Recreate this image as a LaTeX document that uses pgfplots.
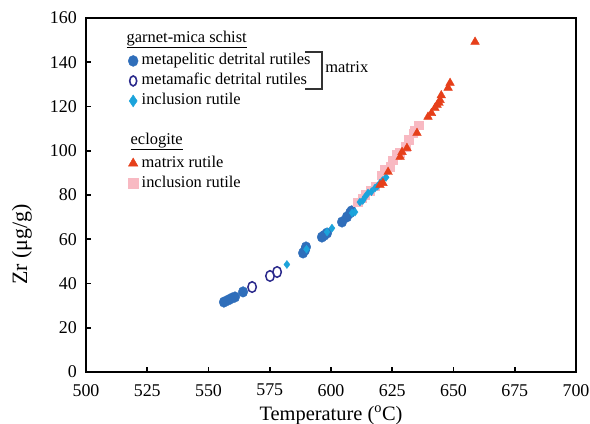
\documentclass[border=0pt]{standalone}
\usepackage{fontspec}
\setmainfont{Liberation Serif}
\usepackage{pgfplots}
\pgfplotsset{compat=1.18}

\definecolor{pelblue}{HTML}{2F6EBA}
\definecolor{mafnavy}{HTML}{2B2A8C}
\definecolor{inccyan}{HTML}{1BA3DB}
\definecolor{eclred}{HTML}{E63F1A}
\definecolor{eclpink}{HTML}{F8B9C2}

\begin{document}
\begin{tikzpicture}[x=1bp,y=1bp]
\useasboundingbox (-86bp,-52bp) rectangle (504bp,372bp);
\begin{axis}[
    at={(0,0)}, anchor=south west,
    scale only axis,
    width=490bp, height=354bp,
    xmin=500, xmax=700, ymin=0, ymax=160,
    xtick={500,525,...,700},
    ytick={0,20,...,160},
    axis line style={line width=2.4bp},
    tick style={line width=1.6bp, black},
    major tick length=5bp,
    tick align=inside,
    xtick pos=bottom, ytick pos=left,
    /pgf/number format/assume math mode=true,
    xticklabel={\pgfmathprintnumber{\tick}},
    yticklabel={\pgfmathprintnumber{\tick}},
    tick label style={font=\fontsize{18}{20}\selectfont, inner sep=0pt},
    yticklabel style={xshift=-9bp},
    xticklabel style={yshift=-12bp},
    xlabel={Temperature (\textsuperscript{o}C)},
    ylabel={Zr (μg/g)},
    xlabel style={font=\fontsize{20.5}{24}\selectfont, at={(axis description cs:0.5,0)}, anchor=base, yshift=-48bp},
    ylabel style={font=\fontsize{22}{24}\selectfont, at={(axis description cs:-0.1306,0.36)}, anchor=center},
    legend image code/.code={\draw[only marks,#1] plot coordinates {(5bp,0bp)};},
    legend cell align=left,
    legend style={draw=none, fill=none, at={(0.0857,0.9647)}, anchor=north west,
        inner sep=0pt, column sep=3bp, row sep=4.5bp,
        nodes={inner sep=0.5bp, text height=11bp, text depth=3.5bp},
        font=\fontsize{16.5}{18}\selectfont},
]
% metapelitic detrital rutiles
\addplot[only marks, mark=*, mark size=5.3bp, color=pelblue, mark options={xscale=0.9}, forget plot] coordinates {
(556.3,31.6) (558.0,32.5) (559.6,33.4) (560.8,33.9) (564.1,36.2)
(588.6,53.8) (589.4,55.1) (589.8,56.5) (596.3,61.0) (597.3,61.8)
(598.4,62.8) (604.5,67.8) (606.5,70.1) (607.8,71.9) (608.4,72.8)
};
% metamafic detrital rutiles
\addplot[only marks, mark=o, mark size=5.3bp, color=mafnavy, mark options={xscale=0.8, line width=1.5bp}, forget plot] coordinates {
(567.8,38.4) (575.1,43.4) (578.0,45.2)
};
% eclogite inclusion rutile
\addplot[only marks, mark=square*, mark size=4.3bp, color=eclpink, forget plot] coordinates {
(611.0,76.8) (612.7,78.6) (614.0,80.0) (616.0,82.0) (618.0,84.0)
(620.8,89.0) (622.0,91.3) (624.1,92.7) (625.3,95.8) (626.9,98.1)
(628.0,99.0) (630.6,101.7) (631.8,104.9) (633.5,108.0) (634.0,109.0)
(635.9,111.6)
};
% garnet-mica schist inclusion rutile
\addplot[only marks, mark=diamond*, mark size=4bp, color=inccyan, forget plot] coordinates {
(582.0,48.6) (590.0,55.5) (598.4,63.3) (600.4,65.0) (608.6,71.9)
(609.8,72.3) (611.8,76.8) (613.0,77.5) (613.9,79.1) (615.1,80.9)
(616.5,81.5) (618.0,83.2) (619.0,84.0) (620.0,85.4) (621.0,86.5)
(622.5,88.0)
};
% eclogite matrix rutile
\addplot[only marks, mark=triangle*, mark size=5bp, color=eclred, forget plot] coordinates {
(620.0,84.5) (621.2,85.4) (623.3,90.4) (628.2,97.2) (629.0,99.4)
(631.0,101.2) (635.1,108.0) (639.6,115.3) (641.0,117.0) (642.4,119.3)
(643.3,120.7) (644.1,121.6) (644.5,122.9) (645.0,125.0) (647.8,128.4)
(648.6,130.6) (658.8,149.2)
};

\addlegendimage{empty legend}
\addlegendentry[text depth=6bp]{\hspace*{-15bp}\underline{garnet-mica schist}}
\addlegendimage{mark=*, mark size=5.5bp, color=pelblue, mark options={xscale=0.9}}
\addlegendentry{metapelitic detrital rutiles}
\addlegendimage{mark=o, mark size=5bp, color=mafnavy, mark options={xscale=0.7, line width=1.6bp}}
\addlegendentry{metamafic detrital rutiles}
\addlegendimage{mark=diamond*, mark size=6bp, color=inccyan, mark options={xscale=0.9}}
\addlegendentry{inclusion rutile}
\addlegendimage{empty legend}
\addlegendentry{}
\addlegendimage{empty legend}
\addlegendentry[text depth=6bp]{\hspace*{-11bp}\underline{eclogite}}
\addlegendimage{mark=triangle*, mark size=5.5bp, color=eclred}
\addlegendentry{matrix rutile}
\addlegendimage{mark=square*, mark size=5bp, color=eclpink}
\addlegendentry{inclusion rutile}

% bracket marking the matrix rutiles
\draw[line width=1.4bp, black!80] (axis cs:589.4,144.6) -- (axis cs:596.3,144.6) -- (axis cs:596.3,127.9) -- (axis cs:589.4,127.9);
\node[anchor=west, inner sep=0pt, font=\fontsize{16.5}{18}\selectfont] at (axis cs:597.6,137.9) {matrix};
\end{axis}
\end{tikzpicture}
\end{document}
